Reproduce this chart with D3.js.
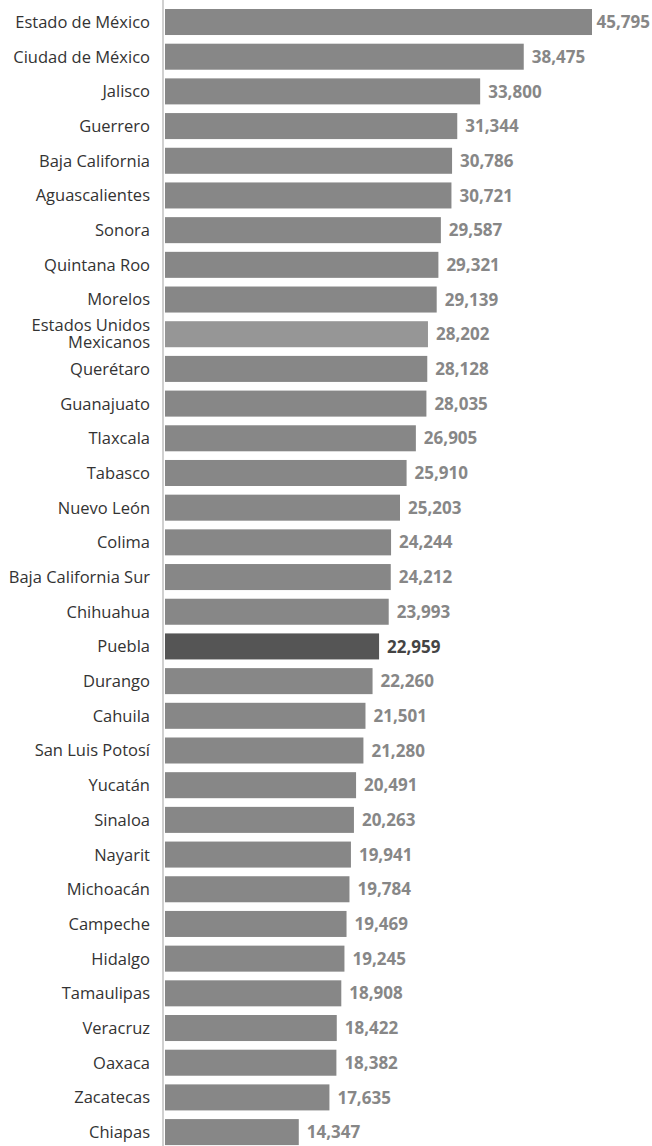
<!DOCTYPE html>
<html><head><meta charset="utf-8">
<script src="https://cdn.jsdelivr.net/npm/d3@7"></script>
<style>body{margin:0;background:#fff}svg{display:block}</style>
</head><body>
<script>
const categories = ["Estado de México","Ciudad de México","Jalisco","Guerrero","Baja California","Aguascalientes","Sonora","Quintana Roo","Morelos","Estados Unidos Mexicanos","Querétaro","Guanajuato","Tlaxcala","Tabasco","Nuevo León","Colima","Baja California Sur","Chihuahua","Puebla","Durango","Cahuila","San Luis Potosí","Yucatán","Sinaloa","Nayarit","Michoacán","Campeche","Hidalgo","Tamaulipas","Veracruz","Oaxaca","Zacatecas","Chiapas"];
const values = [45795,38475,33800,31344,30786,30721,29587,29321,29139,28202,28128,28035,26905,25910,25203,24244,24212,23993,22959,22260,21501,21280,20491,20263,19941,19784,19469,19245,18908,18422,18382,17635,14347];
const nationalCategory = "Estados Unidos Mexicanos";
const highlightCategory = "Puebla";

const W = 652, H = 1146;
const svg = d3.select("body").append("svg").attr("width", W).attr("height", H);

const x = d3.scaleLinear().domain([0, 45795]).range([165, 592]);
const y = d3.scaleBand().domain(categories).range([9, 1145.1]).paddingInner(0.25).paddingOuter(0);

const fill = c => c === highlightCategory ? "#555555" : (c === nationalCategory ? "#969696" : "#878787");

svg.append("line").attr("x1", 163).attr("x2", 163).attr("y1", 0).attr("y2", H)
  .attr("stroke", "#d0d0d0").attr("stroke-width", 2);

svg.selectAll("rect.bar").data(categories).join("rect").attr("class","bar")
  .attr("x", x(0)).attr("y", c => y(c))
  .attr("width", (c,i) => x(values[i]) - x(0))
  .attr("height", y.bandwidth())
  .attr("fill", fill);

const fmt = d3.format(",");
const vals = svg.selectAll("text.val").data(categories).join("text").attr("class","val")
  .attr("y", c => y(c) + y.bandwidth()/2)
  .attr("dy", "0.36em")
  .attr("font-family", "Open Sans")
  .attr("font-weight", "bold")
  .attr("font-size", 17)
  .attr("fill", c => c === highlightCategory ? "#444444" : "#878787")
  .text((c,i) => fmt(values[i]));
vals.each(function(c,i){
  const w = this.getComputedTextLength();
  d3.select(this).attr("x", Math.min(x(values[i]) + 8, W - 2 - w));
});

const lab = svg.selectAll("text.cat").data(categories).join("text").attr("class","cat")
  .attr("x", 150)
  .attr("y", c => y(c) + y.bandwidth()/2)
  .attr("text-anchor", "end")
  .attr("font-family", "Open Sans")
  .attr("font-size", 16.5)
  .attr("fill", "#333333");
lab.each(function(c){
  const t = d3.select(this);
  if (c === nationalCategory) {
    t.attr("y", y(c) + y.bandwidth()/2 - 3);
    t.append("tspan").attr("x",150).attr("dy",0).text("Estados Unidos");
    t.append("tspan").attr("x",150).attr("dy",17).text("Mexicanos");
  } else {
    t.attr("dy","0.36em").text(c);
  }
});
</script>
</body></html>
